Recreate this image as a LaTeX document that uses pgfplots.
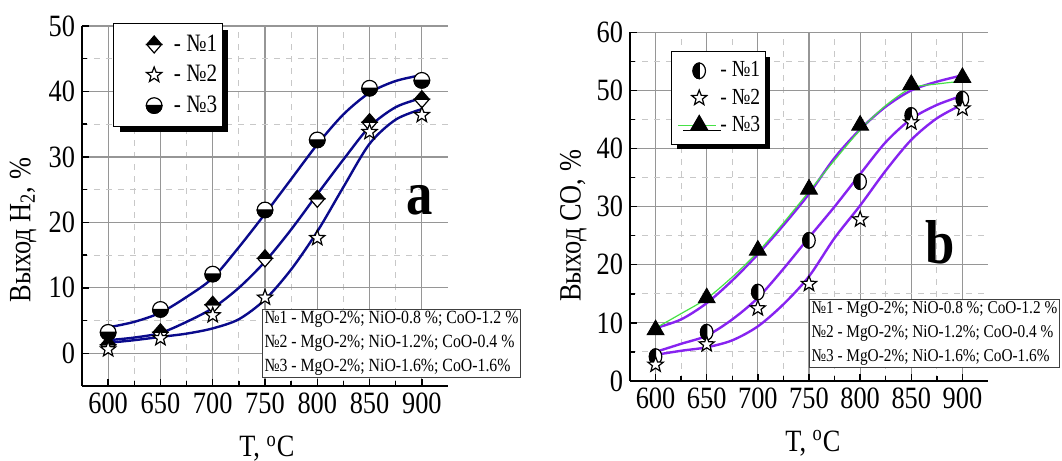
\documentclass[border=0pt]{standalone}
\usepackage{fontspec}
\setmainfont{Liberation Serif}[FakeStretch=0.85]
\usepackage{pgfplots}
\pgfplotsset{compat=1.18}
\usetikzlibrary{shadows,plotmarks}

\definecolor{navy}{RGB}{10,10,140}
\definecolor{violet2}{RGB}{135,35,240}
\definecolor{lgreen}{RGB}{70,225,70}
\definecolor{gridmaj}{RGB}{150,150,150}
\definecolor{gridmin}{RGB}{200,200,200}

% diamond: top half black, bottom half white
\pgfdeclareplotmark{diamhalf}{%
  \pgfsetfillcolor{white}%
  \pgfpathmoveto{\pgfqpoint{-\pgfplotmarksize}{0pt}}%
  \pgfpathlineto{\pgfqpoint{0pt}{-1.15\pgfplotmarksize}}%
  \pgfpathlineto{\pgfqpoint{\pgfplotmarksize}{0pt}}%
  \pgfpathclose
  \pgfusepathqfillstroke
  \pgfsetfillcolor{black}%
  \pgfpathmoveto{\pgfqpoint{-\pgfplotmarksize}{0pt}}%
  \pgfpathlineto{\pgfqpoint{0pt}{1.15\pgfplotmarksize}}%
  \pgfpathlineto{\pgfqpoint{\pgfplotmarksize}{0pt}}%
  \pgfpathclose
  \pgfusepathqfillstroke
}
% circle: top white, bottom black
\pgfdeclareplotmark{circhalf}{%
  \pgfsetfillcolor{white}%
  \pgfpathcircle{\pgfpointorigin}{\pgfplotmarksize}%
  \pgfusepathqfill
  \pgfsetfillcolor{black}%
  \pgfpathmoveto{\pgfqpoint{-\pgfplotmarksize}{0pt}}%
  \pgfpatharc{180}{360}{\pgfplotmarksize}%
  \pgfpathclose
  \pgfusepathqfillstroke
  \pgfpathcircle{\pgfpointorigin}{\pgfplotmarksize}%
  \pgfusepathqstroke
}
% ellipse: left half black, right half white
\pgfdeclareplotmark{ellhalf}{%
  \pgfsetfillcolor{white}%
  \pgfpathellipse{\pgfpointorigin}{\pgfqpoint{0.8\pgfplotmarksize}{0pt}}{\pgfqpoint{0pt}{\pgfplotmarksize}}%
  \pgfusepathqfill
  \pgfsetfillcolor{black}%
  \pgfpathmoveto{\pgfqpoint{0pt}{\pgfplotmarksize}}%
  \pgfpatharc{90}{270}{0.8\pgfplotmarksize and \pgfplotmarksize}%
  \pgfpathclose
  \pgfusepathqfillstroke
  \pgfpathellipse{\pgfpointorigin}{\pgfqpoint{0.8\pgfplotmarksize}{0pt}}{\pgfqpoint{0pt}{\pgfplotmarksize}}%
  \pgfusepathqstroke
}
% open five-pointed star
\pgfdeclareplotmark{ostar}{%
  \pgfsetfillcolor{white}%
  \pgfpathmoveto{\pgfpointpolar{90}{\pgfplotmarksize}}%
  \pgfpathlineto{\pgfpointpolar{126}{0.42\pgfplotmarksize}}%
  \pgfpathlineto{\pgfpointpolar{162}{\pgfplotmarksize}}%
  \pgfpathlineto{\pgfpointpolar{198}{0.42\pgfplotmarksize}}%
  \pgfpathlineto{\pgfpointpolar{234}{\pgfplotmarksize}}%
  \pgfpathlineto{\pgfpointpolar{270}{0.42\pgfplotmarksize}}%
  \pgfpathlineto{\pgfpointpolar{306}{\pgfplotmarksize}}%
  \pgfpathlineto{\pgfpointpolar{342}{0.42\pgfplotmarksize}}%
  \pgfpathlineto{\pgfpointpolar{18}{\pgfplotmarksize}}%
  \pgfpathlineto{\pgfpointpolar{54}{0.42\pgfplotmarksize}}%
  \pgfpathclose
  \pgfusepathqfillstroke
}

\pgfplotsset{
  mystyle/.style={
    scale only axis,
    axis lines=left,
    axis line style={line width=1.3pt,-},
    xmin=575, xmax=925,
    xtick={600,650,...,900},
    minor x tick num=1, minor y tick num=1,
    grid=both,
    major grid style={gridmaj,line width=0.6pt},
    minor grid style={gridmin,dashed,line width=0.5pt},
    tick align=inside,
    major tick length=3.5pt, minor tick length=2.5pt,
    tick style={black,line width=0.7pt},
    tick label style={font=\fontsize{15.5}{15.5}\selectfont},
    /pgf/number format/assume math mode=true,
    label style={font=\fontsize{15.5}{18}\selectfont},
    legend cell align=left,
  }
}

\begin{document}
\begin{tikzpicture}
\useasboundingbox (0,0) rectangle (531pt,230.5pt);

% ---------------- (a) H2 ----------------
\begin{axis}[mystyle,
  at={(41pt,37.5pt)}, anchor=south west,
  width=183pt, height=180pt,
  ymin=-5, ymax=50, ytick={0,10,...,50},
  xlabel={T, \textsuperscript{o}C},
  ylabel={Выход H\textsubscript{2}, \%},
  xlabel style={at={(axis description cs:0.505,-0.175)},anchor=center},
  ylabel style={at={(axis description cs:-0.161,0.433)},anchor=center},
  legend image code/.code={\path (0cm,0cm) (0.95cm,0cm); \draw[#1] plot coordinates {(0.63cm,0cm)};},
  legend style={at={(axis description cs:0.085,1.008)},anchor=north west,
    draw=black,line width=0.6pt,fill=white,
    drop shadow={shadow xshift=3pt,shadow yshift=-3pt,fill=black,opacity=1},
    font=\fontsize{12.5}{12.5}\selectfont,
    nodes={inner sep=0.5pt},
    row sep=4.5pt, inner xsep=2pt, inner ysep=5pt,
    /tikz/every even column/.append style={column sep=3pt}},
]
\addplot[navy,line width=1.2pt,smooth,forget plot] coordinates {
 (600,3.95) (625,4.8) (650,6.2) (675,8.6) (700,11.5) (725,16.2) (750,21.3)
 (775,26.6) (800,31.9) (825,36.5) (850,39.8) (875,41.6) (900,42.5)};
\addplot[navy,line width=1.2pt,smooth,forget plot] coordinates {
 (600,2.0) (625,2.4) (650,3.1) (675,4.8) (700,6.9) (725,10.0) (750,14.0)
 (775,18.9) (800,24.3) (825,29.6) (850,34.6) (875,37.6) (900,39.0)};
\addplot[navy,line width=1.2pt,smooth,forget plot] coordinates {
 (600,1.6) (625,2.0) (650,2.5) (675,3.0) (700,3.8) (725,5.2) (750,8.2)
 (775,12.8) (800,18.6) (825,25.4) (850,32.0) (875,35.7) (900,37.3)};

\addplot[only marks,mark=diamhalf,mark size=3.7pt,mark options={draw=black,line width=0.6pt},forget plot] coordinates {
 (600,1.3) (650,3.2) (700,7.4) (750,14.5) (800,23.6) (850,35.3) (900,38.8)};
\addplot[only marks,mark=ostar,mark size=4pt,mark options={draw=black,line width=0.6pt},forget plot] coordinates {
 (600,0.6) (650,2.3) (700,5.8) (750,8.5) (800,17.6) (850,33.8) (900,36.4)};
\addplot[only marks,mark=circhalf,mark size=3.9pt,mark options={draw=black,line width=0.6pt},forget plot] coordinates {
 (600,3.2) (650,6.7) (700,12.1) (750,21.9) (800,32.6) (850,40.5) (900,41.7)};

\addlegendimage{only marks,mark=diamhalf,mark size=3.7pt,mark options={draw=black,line width=0.6pt}}
\addlegendentry{- №1}
\addlegendimage{only marks,mark=ostar,mark size=4pt,mark options={draw=black,line width=0.6pt}}
\addlegendentry{- №2}
\addlegendimage{only marks,mark=circhalf,mark size=3.9pt,mark options={draw=black,line width=0.6pt}}
\addlegendentry{- №3}

\node[font=\fontsize{31}{31}\selectfont\bfseries] at (axis cs:898,23.4) {a};
\end{axis}

% ---------------- (b) CO ----------------
\begin{axis}[mystyle,
  at={(315pt,40pt)}, anchor=south west,
  width=179pt, height=174.35pt,
  ymin=0, ymax=60, ytick={0,10,...,60},
  xlabel={T, \textsuperscript{o}C},
  ylabel={Выход CO, \%},
  xlabel style={at={(axis description cs:0.511,-0.178)},anchor=center},
  ylabel style={at={(axis description cs:-0.158,0.445)},anchor=center},
  legend image code/.code={\path (0cm,0cm) (0.75cm,0cm); \draw[#1] plot coordinates {(0.405cm,0cm)};},
  legend style={at={(axis description cs:0.1145,0.946)},anchor=north west,
    draw=black,line width=0.6pt,fill=white,
    drop shadow={shadow xshift=2.5pt,shadow yshift=-2.5pt,fill=black,opacity=1},
    font=\fontsize{11.5}{11.5}\selectfont,
    nodes={inner sep=0.5pt},
    row sep=3.5pt, inner xsep=2pt, inner ysep=4.5pt,
    /tikz/every even column/.append style={column sep=1.5pt}},
]
\addplot[violet2,line width=1.2pt,smooth,forget plot] coordinates {
 (600,9.1) (625,10.6) (650,13.4) (675,17.3) (700,21.8) (725,26.8) (750,32.2)
 (775,38.4) (800,43.3) (825,47.2) (850,50.0) (875,51.5) (900,52.6)};
\addplot[violet2,line width=1.2pt,smooth,forget plot] coordinates {
 (600,5.0) (625,6.4) (650,7.8) (675,10.6) (700,14.3) (725,19.3) (750,24.7)
 (775,30.0) (800,35.6) (825,41.1) (850,45.1) (875,47.5) (900,49.1)};
\addplot[violet2,line width=1.2pt,smooth,forget plot] coordinates {
 (600,4.5) (625,5.2) (650,5.8) (675,7.0) (700,9.4) (725,13.2) (750,18.0)
 (775,24.6) (800,30.2) (825,36.2) (850,41.5) (875,45.2) (900,47.6)};
\addplot[lgreen,line width=0.6pt,smooth,forget plot] coordinates {
 (600,9.1) (625,11.6) (650,14.2) (675,17.9) (700,22.2) (725,27.2) (750,32.6)
 (775,38.0) (800,43.2) (825,47.4) (850,50.4) (875,51.1) (900,51.6)};

\addplot[only marks,mark=ellhalf,mark size=3.9pt,mark options={draw=black,line width=0.6pt},forget plot] coordinates {
 (600,4.2) (650,8.4) (700,15.3) (750,24.2) (800,34.3) (850,45.7) (900,48.5)};
\addplot[only marks,mark=ostar,mark size=4pt,mark options={draw=black,line width=0.6pt},forget plot] coordinates {
 (600,2.8) (650,6.3) (700,12.5) (750,16.7) (800,27.8) (850,44.5) (900,46.9)};
\addplot[only marks,mark=triangle*,mark size=4.9pt,mark options={draw=black,fill=black},forget plot] coordinates {
 (600,8.8) (650,14.3) (700,22.5) (750,33.0) (800,44.0) (850,51.0) (900,52.2)};

\addlegendimage{only marks,mark=ellhalf,mark size=3.9pt,mark options={draw=black,line width=0.6pt}}
\addlegendentry{- №1}
\addlegendimage{only marks,mark=ostar,mark size=4pt,mark options={draw=black,line width=0.6pt}}
\addlegendentry{- №2}
\addlegendimage{legend image code/.code={\path (0cm,0cm) (0.75cm,0cm);
   \draw[lgreen,line width=0.6pt] (0.035cm,0cm) -- (0.7cm,0cm);
   \draw[black,fill=black,mark=triangle*,mark size=4.9pt,only marks] plot coordinates {(0.405cm,0cm)};}}
\addlegendentry{- №3}

\node[font=\fontsize{31}{31}\selectfont\bfseries] at (axis cs:878,23.9) {b};
\end{axis}

% composition boxes
\node[draw=black!75,line width=0.5pt,fill=white,anchor=north west,inner xsep=1pt,inner ysep=1pt,
      align=left,font=\fontsize{9.3}{12}\selectfont] at (131pt,76pt)
 {№1 - MgO-2\%; NiO-0.8 \%; CoO-1.2 \%\\
  №2 - MgO-2\%; NiO-1.2\%; CoO-0.4 \%\\
  №3 - MgO-2\%; NiO-1.6\%; CoO-1.6\%};
\node[draw=black!75,line width=0.5pt,fill=white,anchor=north west,inner xsep=1pt,inner ysep=1pt,
      align=left,font=\fontsize{9}{12}\selectfont] at (404.5pt,81pt)
 {№1 - MgO-2\%; NiO-0.8 \%; CoO-1.2 \%\\
  №2 - MgO-2\%; NiO-1.2\%; CoO-0.4 \%\\
  №3 - MgO-2\%; NiO-1.6\%; CoO-1.6\%};
\end{tikzpicture}
\end{document}
